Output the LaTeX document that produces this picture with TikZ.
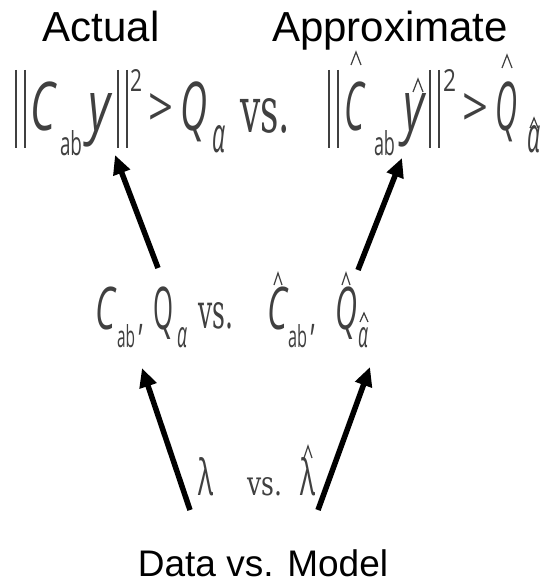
\documentclass[tikz,border=0pt]{standalone}
\usepackage{fontspec}
\setmainfont{Liberation Sans}
\newfontfamily\mathf{Open Sans}
\newfontfamily\serf{DejaVu Serif}
\usetikzlibrary{arrows.meta}
\definecolor{ink}{HTML}{404040}
\newcommand{\rb}[3]{\resizebox{#1pt}{#2pt}{#3}}
\newcommand{\gl}[4]{\resizebox{#1pt}{#2pt}{\raisebox{0pt}[#3em][0pt]{#4}}}
\tikzset{
  tok/.style={inner sep=0pt, outer sep=0pt, anchor=base west, text=ink, font=\mathf\fontsize{40}{40}\selectfont},
  vstok/.style={tok, font=\serf\fontsize{40}{40}\selectfont},
  bar/.style={draw=ink, line width=2.2pt},
  hatm/.style={draw=ink, line width=1.2pt},
  arr/.style={line width=5.5pt, -{Triangle[length=19pt,width=17pt]}},
  lbl/.style={inner sep=0pt, anchor=base, font=\fontsize{42}{42}\selectfont}
}
\begin{document}
\begin{tikzpicture}[x=1pt,y=-1pt]
\useasboundingbox[fill=white] (0,0) rectangle (544,583);
% labels
\node[lbl] (act) at (101,42) {Actual};
\node[lbl] (app) at (390,42) {Approximate};
\node[lbl, font=\fontsize{37}{37}\selectfont] (dm) at (263,576) {Data vs. Model};
% line 1
\draw[bar] (16,70) -- (16,148); \draw[bar] (25,70) -- (25,148);
\node[tok] (c1) at (30,131) {\gl{25}{48}{0.714}{\itshape C}};
\node[tok] (ab1) at (60,155) {\gl{22}{25}{0.76}{ab}};
\node[tok] (y1) at (88,131) {\rb{22}{37}{\itshape y}};
\draw[bar] (118,70) -- (118,148); \draw[bar] (127,70) -- (127,148);
\node[tok] (two1) at (130,92) {\rb{12}{22}{2}};
\node[tok] (gt1) at (148,126) {\rb{25}{33}{>}};
\node[tok] (q1) at (180,131) {\gl{27}{48}{0.714}{\itshape Q}};
\node[tok] (al1) at (212,153) {\rb{13}{27}{\itshape α}};
\node[vstok] (vs1) at (240,132) {\rb{50}{34}{vs.}};
\draw[bar] (329,70) -- (329,148); \draw[bar] (338,70) -- (338,148);
\node[tok] (c2) at (344,131) {\gl{20}{48}{0.714}{\itshape C}};
\draw[hatm] (351,65) -- (356,52) -- (361,65);
\node[tok] (ab2) at (374,155) {\gl{21}{25}{0.76}{ab}};
\node[tok] (y2) at (403,131) {\rb{21}{37}{\itshape y}};
\draw[hatm] (413,92) -- (418,79) -- (423,92);
\draw[bar] (430,70) -- (430,148); \draw[bar] (439,70) -- (439,148);
\node[tok] (two2) at (443,92) {\rb{13}{22}{2}};
\node[tok] (gt2) at (462,126) {\rb{26}{33}{>}};
\node[tok] (q2) at (495,131) {\gl{22}{48}{0.714}{\itshape Q}};
\draw[hatm] (502,68) -- (507,55) -- (512,68);
\node[tok] (al2) at (527,153) {\rb{13}{27}{\itshape α}};
\draw[hatm] (530,128) -- (534,118) -- (538,128);
% line 2
\node[tok] (c3) at (95,329) {\gl{20}{42}{0.714}{\itshape C}};
\node[tok] (ab3) at (117,347) {\gl{18}{23}{0.76}{ab}};
\node[tok] (cm3) at (138,329) {\scalebox{0.6}[1.1]{,}};
\node[tok] (q3) at (153,329) {\gl{20}{42}{0.714}{Q}};
\node[tok] (al3) at (177,347) {\rb{10}{20}{\itshape α}};
\node[vstok] (vs3) at (198,328) {\rb{35}{26}{vs.}};
\node[tok] (c4) at (267,329) {\gl{20}{42}{0.714}{\itshape C}};
\draw[hatm] (274,285) -- (278,273) -- (282,285);
\node[tok] (ab4) at (288,347) {\gl{19}{23}{0.76}{ab}};
\node[tok] (cm4) at (310,329) {\scalebox{0.6}[1.1]{,}};
\node[tok] (q4) at (335,329) {\gl{22}{42}{0.714}{\itshape Q}};
\draw[hatm] (342,285) -- (346,273) -- (350,285);
\node[tok] (al4) at (358,347) {\rb{10}{20}{\itshape α}};
\draw[hatm] (360,322) -- (364,313) -- (368,322);
% line 3
\node[tok] (lam1) at (198,495) {\rb{15}{38}{λ}};
\node[vstok] (vs5) at (247,495) {\rb{35}{18}{vs.}};
\node[tok] (lam2) at (300,495) {\rb{15}{38}{λ}};
\draw[hatm] (304,458) -- (308,446) -- (312,458);
% arrows
\coordinate (a1s) at (158,268); \coordinate (a1e) at (115,155);
\coordinate (a2s) at (358,270); \coordinate (a2e) at (402,158);
\coordinate (a3s) at (190,510); \coordinate (a3e) at (142,368);
\coordinate (a4s) at (318,510); \coordinate (a4e) at (370,367);
\draw[arr] (a1s) -- (a1e);
\draw[arr] (a2s) -- (a2e);
\draw[arr] (a3s) -- (a3e);
\draw[arr] (a4s) -- (a4e);
\end{tikzpicture}
\end{document}
